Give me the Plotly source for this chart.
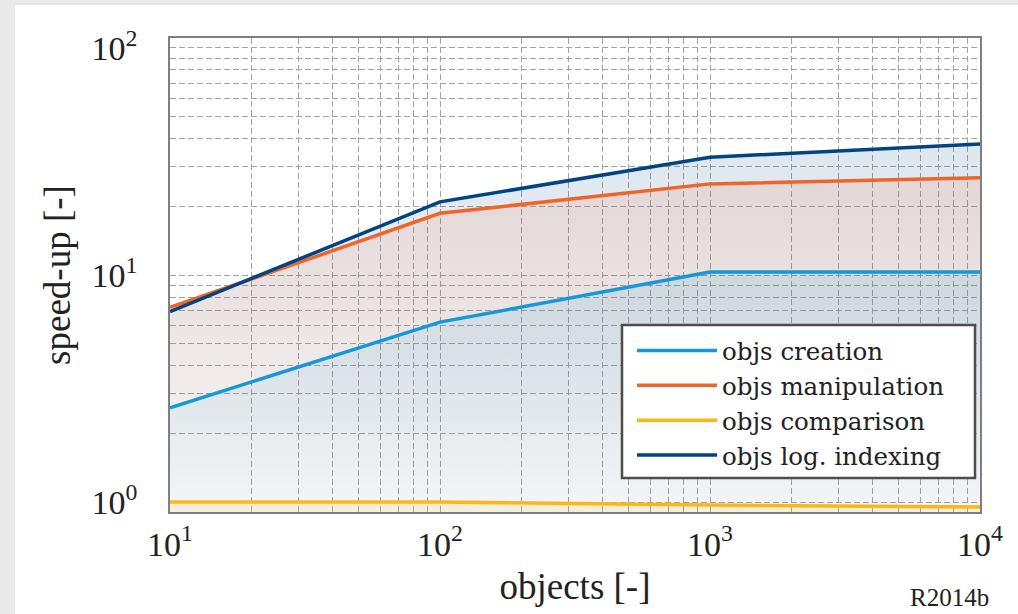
import plotly.graph_objects as go

# ---- data ----
objects = [10, 100, 1000, 10000]
creation = [2.6, 6.2, 10.3, 10.3]
manipulation = [7.2, 18.7, 25.2, 26.8]
comparison = [1.0, 1.0, 0.97, 0.95]
log_indexing = [6.9, 21.0, 33.0, 37.8]

series_names = ["objs creation", "objs manipulation", "objs comparison", "objs log. indexing"]
series_vals = [creation, manipulation, comparison, log_indexing]
series_rgb = [(20, 152, 215), (240, 100, 40), (253, 182, 20), (0, 68, 130)]

x_tickvals = [10, 100, 1000, 10000]
x_ticktext = ["10<sup>1</sup>", "10<sup>2</sup>", "10<sup>3</sup>", "10<sup>4</sup>"]
y_tickvals = [1, 10, 100]
y_ticktext = ["10<sup>0</sup>", "10<sup>1</sup>", "10<sup>2</sup>"]

x_minor = [k * 10 ** d for d in range(1, 4) for k in range(2, 10)]
y_minor = [k * 10 ** d for d in range(0, 2) for k in range(2, 10)]

FONT = "Liberation Serif, DejaVu Serif, serif"
LEG_FONT = "DejaVu Serif, serif"
BASE = 0.5  # below visible range, fill floor

fig = go.Figure()

# fills (drawn first, largest region first)
fill_order = [3, 1, 0, 2]
for i in fill_order:
    r, g, b = series_rgb[i]
    fig.add_trace(go.Scatter(x=objects, y=[BASE] * len(objects), mode="lines",
                             line=dict(width=0), showlegend=False, hoverinfo="skip"))
    fig.add_trace(go.Scatter(
        x=objects, y=series_vals[i], mode="lines", line=dict(width=0),
        fill="tonexty",
        fillgradient=dict(type="vertical",
                          colorscale=[[0, f"rgba({r},{g},{b},0.0)"],
                                      [1, f"rgba({r},{g},{b},0.13)"]]),
        showlegend=False, hoverinfo="skip"))

# lines
for name, vals, (r, g, b) in zip(series_names, series_vals, series_rgb):
    fig.add_trace(go.Scatter(x=objects, y=vals, mode="lines", name=name,
                             line=dict(color=f"rgb({r},{g},{b})", width=3.5)))

grid_col = "#a4a4a4"
DASH = "6px,3px"
axis_common = dict(
    type="log", showline=True, mirror=True, linecolor="#7f7f7f", linewidth=1.5,
    showgrid=True, gridcolor=grid_col, griddash=DASH, gridwidth=1.2,
    ticks="", zeroline=False,
    tickfont=dict(family=FONT, size=34, color="#222"),
)

fig.update_xaxes(**axis_common, range=[1, 4], tickvals=x_tickvals, ticktext=x_ticktext,
                 ticklabelstandoff=1,
                 minor=dict(tickmode="array", tickvals=x_minor, showgrid=True,
                            gridcolor=grid_col, griddash=DASH, gridwidth=1.2, ticks=""),
                 title=dict(text="objects [-]", font=dict(family=FONT, size=37, color="#222"),
                            standoff=12))
fig.update_yaxes(**axis_common, range=[-0.044, 2.044], tickvals=y_tickvals, ticktext=y_ticktext,
                 ticklabelstandoff=24,
                 minor=dict(tickmode="array", tickvals=y_minor, showgrid=True,
                            gridcolor=grid_col, griddash=DASH, gridwidth=1.2, ticks=""),
                 title=dict(text="speed-up [-]", font=dict(family=FONT, size=37, color="#222"),
                            standoff=10))

# page frame strips (left and top)
fig.add_shape(type="rect", xref="paper", yref="paper",
              x0=-170 / 810, x1=-155 / 810, y0=-102 / 474, y1=512 / 474,
              fillcolor="#e9e9e9", line=dict(width=0), layer="below")
fig.add_shape(type="rect", xref="paper", yref="paper",
              x0=-170 / 810, x1=848 / 810, y0=507 / 474, y1=512 / 474,
              fillcolor="#e9e9e9", line=dict(width=0), layer="below")

# legend box
fig.add_shape(type="rect", xref="paper", yref="paper",
              x0=(622 - 170) / 810, x1=(975 - 170) / 810,
              y0=(512 - 478) / 474, y1=(512 - 325) / 474,
              fillcolor="white", line=dict(color="#4d4d4d", width=2.5), layer="above")

fig.add_annotation(text="R2014b", xref="paper", yref="paper", x=0.962, y=-0.214,
                   xanchor="center", yanchor="bottom", showarrow=False,
                   font=dict(family=FONT, size=25, color="#222"))

fig.update_layout(
    width=1018, height=614,
    margin=dict(l=170, r=38, t=38, b=102),
    paper_bgcolor="white", plot_bgcolor="white",
    legend=dict(x=(632 - 170) / 810, y=(512 - 478) / 474, xanchor="left", yanchor="bottom",
                bgcolor="rgba(0,0,0,0)", borderwidth=0,
                font=dict(family=LEG_FONT, size=24.5, color="#222"),
                traceorder="normal", tracegroupgap=0, itemwidth=80),
    showlegend=True,
)

fig.write_html("out.html", config={"displayModeBar": False},
               post_script="document.body.style.margin='0';")
